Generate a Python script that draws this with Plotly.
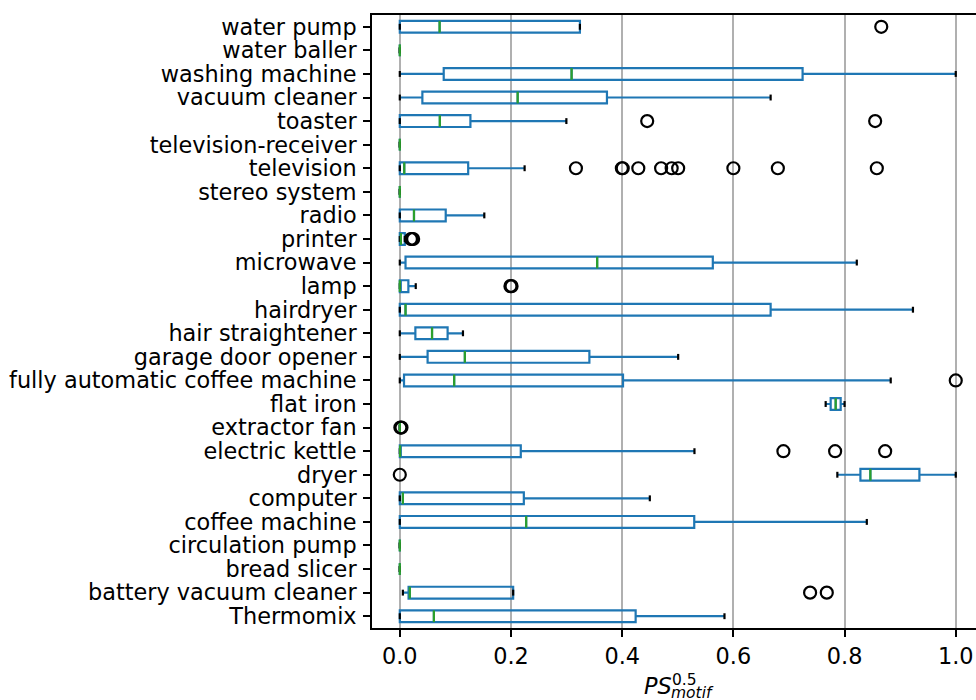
import plotly.graph_objects as go

# Categories, bottom (position 1) to top
categories = ["Thermomix", "battery vacuum cleaner", "bread slicer", "circulation pump",
              "coffee machine", "computer", "dryer", "electric kettle", "extractor fan",
              "flat iron", "fully automatic coffee machine", "garage door opener",
              "hair straightener", "hairdryer", "lamp", "microwave", "printer", "radio",
              "stereo system", "television", "television-receiver", "toaster",
              "vacuum cleaner", "washing machine", "water baller", "water pump"]

lower_whisker = [0.0, 0.0055, 0.0, 0.0, 0.0, 0.0, 0.787, 0.0, 0.0, 0.766, 0.0, 0.0, 0.0,
                 0.0, 0.0, 0.0, 0.0, 0.0, 0.0, 0.0, 0.0, 0.0, 0.0, 0.0, 0.0, 0.0]
q1_vals = [0.0, 0.0158, 0.0, 0.0, 0.0, 0.0, 0.8285, 0.0, 0.0, 0.775, 0.0076, 0.050, 0.028,
           0.0, 0.0, 0.0103, 0.0, 0.0, 0.0, 0.0, 0.0, 0.0, 0.0406, 0.079, 0.0, 0.0]
median_vals = [0.0613, 0.018, 0.0, 0.0, 0.2273, 0.0055, 0.8464, 0.0005, 0.0, 0.784, 0.0978,
               0.117, 0.058, 0.0103, 0.0, 0.355, 0.002, 0.0255, 0.0, 0.008, 0.0, 0.072,
               0.212, 0.309, 0.0, 0.0716]
q3_vals = [0.4242, 0.2039, 0.0, 0.0, 0.5296, 0.2231, 0.9346, 0.2176, 0.0, 0.793, 0.4015,
           0.341, 0.086, 0.667, 0.0154, 0.563, 0.009, 0.0826, 0.0, 0.123, 0.0, 0.127,
           0.3726, 0.7245, 0.0, 0.324]
upper_whisker = [0.584, 0.2039, 0.0, 0.0, 0.840, 0.4497, 1.0, 0.530, 0.0, 0.800, 0.883,
                 0.5007, 0.1136, 0.923, 0.0287, 0.822, 0.009, 0.152, 0.0, 0.2245, 0.0,
                 0.2996, 0.667, 1.0, 0.0, 0.324]

outlier_category = ["water pump",
                    "toaster", "toaster",
                    "television", "television", "television", "television", "television",
                    "television", "television", "television", "television", "television",
                    "printer", "printer", "printer",
                    "lamp", "lamp",
                    "extractor fan", "extractor fan",
                    "electric kettle", "electric kettle", "electric kettle",
                    "dryer",
                    "fully automatic coffee machine",
                    "battery vacuum cleaner", "battery vacuum cleaner"]
outlier_value = [0.866,
                 0.445, 0.855,
                 0.3168, 0.3994, 0.401, 0.429, 0.470, 0.489, 0.5007, 0.600, 0.680, 0.858,
                 0.020, 0.022, 0.024,
                 0.199, 0.201,
                 0.001, 0.003,
                 0.690, 0.783, 0.873,
                 0.0,
                 1.0,
                 0.738, 0.768]

x_ticks = [0.0, 0.2, 0.4, 0.6, 0.8, 1.0]

BLUE = "#1f77b4"
GREEN = "#2ca02c"
FONT = "DejaVu Sans"
FS = 22.4

positions = list(range(1, len(categories) + 1))
pos_of = {c: p for c, p in zip(categories, positions)}

fig = go.Figure()

fig.add_trace(go.Box(
    y=positions, q1=q1_vals, median=median_vals, q3=q3_vals,
    lowerfence=lower_whisker, upperfence=upper_whisker,
    orientation="h", width=0.5, whiskerwidth=0,
    line=dict(color=BLUE, width=2.2), fillcolor="rgba(0,0,0,0)",
    boxpoints=False, hoverinfo="skip", showlegend=False,
))

# caps (black)
cap_x, cap_y = [], []
for p, lo, hi in zip(positions, lower_whisker, upper_whisker):
    for v in (lo, hi):
        cap_x += [v, v, None]
        cap_y += [p - 0.125, p + 0.125, None]
fig.add_trace(go.Scatter(x=cap_x, y=cap_y, mode="lines",
                         line=dict(color="black", width=2.2),
                         hoverinfo="skip", showlegend=False))

# medians (green)
med_x, med_y = [], []
for p, m in zip(positions, median_vals):
    med_x += [m, m, None]
    med_y += [p - 0.25, p + 0.25, None]
fig.add_trace(go.Scatter(x=med_x, y=med_y, mode="lines",
                         line=dict(color=GREEN, width=2.2),
                         hoverinfo="skip", showlegend=False))

# fliers
fig.add_trace(go.Scatter(
    x=outlier_value, y=[pos_of[c] for c in outlier_category], mode="markers",
    marker=dict(symbol="circle-open", size=12, color="black", line=dict(width=2.2)),
    hoverinfo="skip", showlegend=False))

fig.update_layout(
    width=976, height=700, template="none",
    margin=dict(l=372, r=0, t=15, b=72, pad=0),
    plot_bgcolor="white", paper_bgcolor="white",
    font=dict(family=FONT, size=FS, color="black"),
    showlegend=False,
    xaxis=dict(range=[-0.05, 1.0364], tickvals=x_ticks,
               ticktext=[f"{v:.1f}" for v in x_ticks],
               showgrid=True, gridcolor="#b0b0b0", gridwidth=1.6,
               zeroline=False, showline=True, linecolor="black", linewidth=1.8,
               mirror=True, ticks="outside", ticklen=7, tickwidth=1.8,
               tickcolor="black", tickfont=dict(family=FONT, size=FS, color="black"),
               automargin=False),
    yaxis=dict(range=[0.5, 26.5], tickvals=positions, ticktext=categories,
               showgrid=False, zeroline=False, showline=True, linecolor="black",
               linewidth=1.8, ticks="outside", ticklen=7, tickwidth=1.8,
               tickcolor="black", tickfont=dict(family=FONT, size=FS, color="black"),
               ticklabelstandoff=2, automargin=False),
)

# axis title PS^{0.5}_{motif}, stacked super/subscript as in mathtext
def px_x(p):
    return (p - 372) / 604

def px_y(p):
    return (628 - p) / 613

fig.add_annotation(text="<i>PS</i>", x=px_x(643), y=px_y(686), xref="paper", yref="paper",
                   xanchor="left", yanchor="middle", showarrow=False,
                   font=dict(family=FONT, size=FS, color="black"), borderpad=0)
fig.add_annotation(text="0.5", x=px_x(671), y=px_y(679.5), xref="paper", yref="paper",
                   xanchor="left", yanchor="middle", showarrow=False,
                   font=dict(family=FONT, size=15.5, color="black"), borderpad=0)
fig.add_annotation(text="<i>motif</i>", x=px_x(670), y=px_y(692.5), xref="paper", yref="paper",
                   xanchor="left", yanchor="middle", showarrow=False,
                   font=dict(family=FONT, size=15.5, color="black"), borderpad=0)

fig.write_html("out.html")
